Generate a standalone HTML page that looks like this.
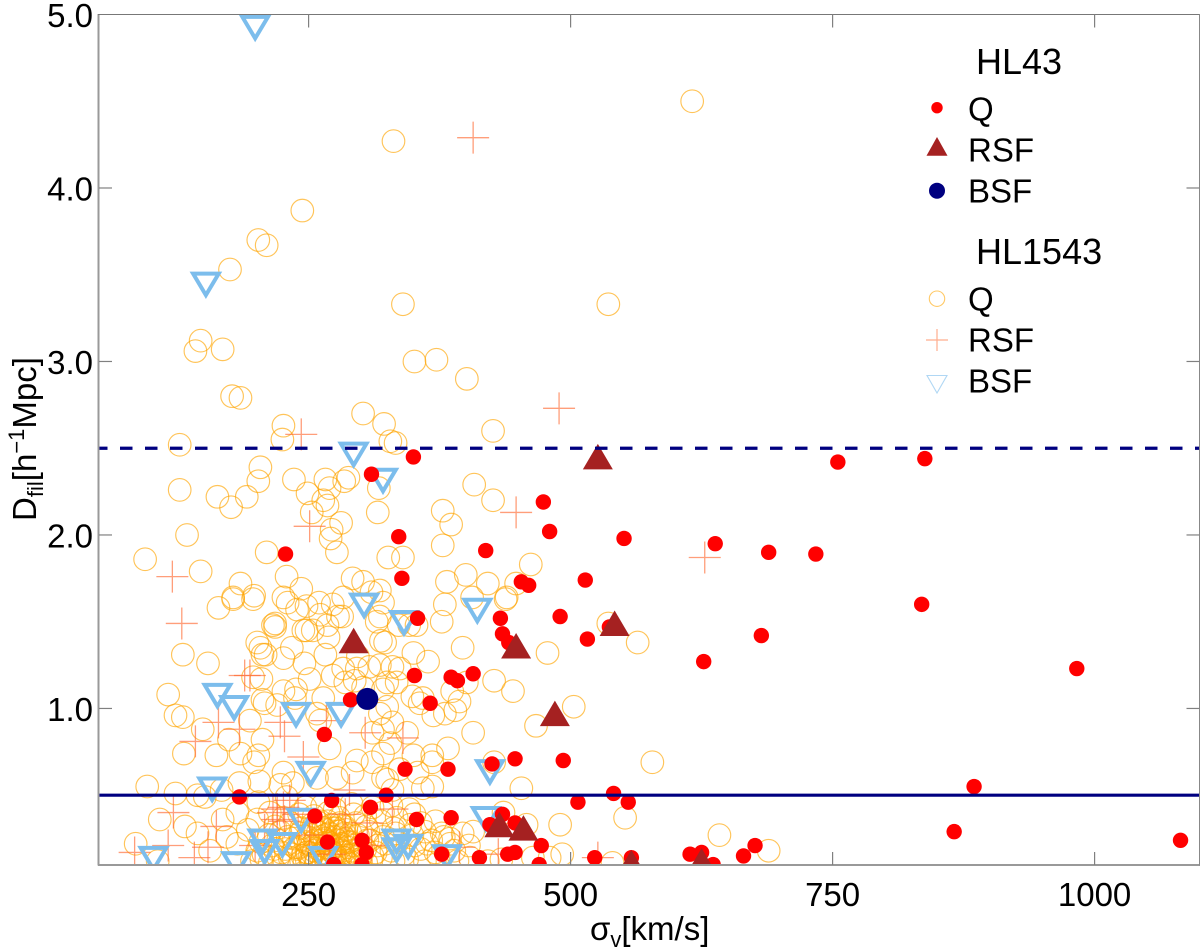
<!DOCTYPE html>
<html lang="en">
<head>
<meta charset="utf-8">
<title>Dfil vs velocity dispersion</title>
<style>
html,body{margin:0;padding:0;background:#fff;}
svg{display:block;}
text{font-family:"Liberation Sans",sans-serif;fill:#000;}
</style>
</head>
<body>
<svg id="chart" width="1200" height="950" viewBox="0 0 1200 950" xmlns="http://www.w3.org/2000/svg">
  <defs><clipPath id="plot-clip"><rect x="99" y="14.5" width="1100" height="850"></rect></clipPath></defs>
  <g id="marks" clip-path="url(#plot-clip)"></g>
  <g id="axes"></g>
  <text x="590" y="940" font-size="33">σ<tspan dy="7" font-size="22">v</tspan><tspan dy="-7">[km/s]</tspan></text>
  <text x="36" y="439" font-size="33" text-anchor="middle" transform="rotate(-90 36 439)">D<tspan dy="7" font-size="22">fil</tspan><tspan dy="-7">[h</tspan><tspan dy="-12" font-size="22">−1</tspan><tspan dy="12">Mpc]</tspan></text>
  <g>
    <text x="976" y="74" font-size="36">HL43</text>
    <circle cx="937" cy="107.7" r="5.7" fill="#ff0000"></circle>
    <text x="968" y="120.5" font-size="33">Q</text>
    <polygon points="926.5,155.7 947.5,155.7 937,137" fill="#a52121"></polygon>
    <text x="968" y="161.7" font-size="33">RSF</text>
    <circle cx="937" cy="190.7" r="8" fill="#000080"></circle>
    <text x="968" y="202.7" font-size="33">BSF</text>
    <text x="976" y="264" font-size="36">HL1543</text>
    <circle cx="937" cy="298.7" r="7.7" fill="none" stroke="#ffa500" stroke-opacity="0.6" stroke-width="1.1"></circle>
    <text x="968" y="310.7" font-size="33">Q</text>
    <path d="M926 340H948M937 329V351" fill="none" stroke="#ff6a32" stroke-opacity="0.55" stroke-width="1.2"></path>
    <text x="968" y="351.7" font-size="33">RSF</text>
    <polygon points="927,375.5 947,375.5 937,393" fill="none" stroke="#7cbdec" stroke-opacity="0.6" stroke-width="1.1"></polygon>
    <text x="968" y="392.7" font-size="33">BSF</text>
  </g>
</svg>
<script>
const xTickValues = [250, 500, 750, 1000];
const xTickLabels = ["250", "500", "750", "1000"];
const yTickValues = [1, 2, 3, 4, 5];
const yTickLabels = ["1.0", "2.0", "3.0", "4.0", "5.0"];
const referenceLines = [0.5, 2.5];

const hl43QSigma = [350,310,474,480,336,419,551,339,453,460,514,228,354,433,490,435,441,516,537,351,386,392,407,366,290,265,342,383,425,447,493,324,541,555,507,353,386,435,423,447,472,377,413,440,447,470,523,558,184,272,309,256,268,301,305,274,301,885,866,1082,676,665,625,614,636,755,838,638,689,734,835,682,627,983];
const hl43QDfil = [2.45,2.35,2.19,2.02,1.99,1.91,1.98,1.75,1.73,1.71,1.74,1.89,1.52,1.52,1.53,1.43,1.38,1.40,1.47,1.19,1.18,1.16,1.20,1.03,1.05,0.85,0.65,0.65,0.68,0.71,0.70,0.50,0.51,0.46,0.46,0.36,0.37,0.39,0.33,0.34,0.21,0.16,0.14,0.16,0.17,0.10,0.14,0.14,0.49,0.47,0.43,0.38,0.23,0.24,0.17,0.10,0.10,0.55,0.29,0.24,0.21,0.15,0.17,0.16,0.10,2.42,2.44,1.95,1.90,1.89,1.60,1.42,1.27,1.23];

const hl43RsfSigma = [293,448,542,485,432,455,558,526,625];
const hl43RsfDfil = [1.39,1.36,1.49,0.97,0.33,0.31,0.11,2.45,0.12];

const hl43BsfSigma = [306];
const hl43BsfDfil = [1.055];

const hl1543BsfSigma = [199,152,293,321,303,341,411,163,179,238,281,252,158,423,419,243,206,208,225,102,181,264,334,345,334,382];
const hl1543BsfDfil = [4.92,3.44,2.46,2.31,1.59,1.49,1.56,1.07,1.00,0.96,0.96,0.62,0.53,0.63,0.36,0.35,0.23,0.17,0.21,0.13,0.10,0.13,0.23,0.20,0.18,0.14];

const hl1543RsfSigma = [407,489,448,243,251,120,129,194,189,628,164,184,223,227,142,267,304,245,289,232,121,162,220,84,116,154,141,330,306,216,226,310,394,431,526,340,220,227,240,208,199,251,285,270];
const hl1543RsfDfil = [4.29,2.73,2.13,2.58,2.05,1.76,1.49,1.19,1.19,1.87,0.92,0.88,0.92,0.84,0.81,0.93,0.86,0.72,0.53,0.47,0.40,0.32,0.36,0.17,0.21,0.20,0.14,0.42,0.34,0.40,0.43,0.21,0.20,0.16,0.14,0.83,0.42,0.35,0.39,0.30,0.21,0.27,0.39,0.16];

const hl1543QSigma = [
616,331,340,536,351,372,401,175,202,210,244,147,142,168,177,185,
226,225,302,322,127,328,204,202,127,163,176,191,236,266,270,284,288,249,264,268,253,281,272,271,277,317,316,326,94,134,210,147,185,178,198,164,
229,243,226,230,239,248,260,273,283,292,302,310,
426,333,408,426,378,386,378,462,448,340,382,400,421,439,406,380,321,318,
318,336,346,353,377,438,536,564,478,397,427,445,323,350,364,330,337,325,334,321,349,359,356,401,387,394,390,380,369,407,318,330,321,344,467,503,383,368,328,350,368,354,337,321,359,368,330,427,453,578,552,490,436,458,371,397,407,385,377,492,480,464,540,363,642,689,
282,261,245,269,254,218,234,201,204,206,209,226,246,266,315,319,297,318,283,296,308,273,285,294,251,302,205,197,238,208,220,264,237,325,258,216,
178,197,218,248,268,278,130,154,116,123,130,149,131,162,174,185,206,194,206,226,261,270,311,321,296,311,198,202,226,223,235,258,277,292,325,96,123,144,151,167,184,203,108,132,144,85,156,106,168,182,202,192,172,182,201,213,229,
196,205,213,221,227,236,243,251,257,266,273,283,289,299,305,319,331,344,361,374,392,404,421,434,
201,207,217,224,233,239,249,255,265,271,282,291,304,314,329,341,357,371,389,
204,215,221,231,237,247,253,263,269,279,287,300,309,323,335,351,367,385,403,
212,223,230,242,249,259,266,277,284,297,307,321,333,349,361,379,
218,233,243,253,261,273,281,295,305,319,331,347,357,
226,241,255,269,279,293,304,321,334,351,
247,263,275,291,311,329,346,
246,252,258,262,268,272,276,280,284,288,292,296,300,
248,254,259,263,267,271,275,279,283,287,291,295,
250,256,261,265,269,273,277,281,285,289,293,
252,257,262,266,270,274,278,282,286,290,
255,260,264,268,272,276,280,284,
244,240,236,232,228,301,306,311,316
];
const hl1543QDfil = [
4.50,4.27,3.33,3.33,3.00,3.01,2.90,3.53,3.70,3.67,3.87,3.12,3.06,3.07,2.80,2.79,
2.63,2.55,2.70,2.64,2.52,2.54,2.39,2.31,2.26,2.22,2.16,2.22,2.32,2.32,2.27,2.31,2.33,2.24,2.20,2.17,2.13,2.07,2.03,1.98,1.90,2.27,2.13,1.87,1.86,2.00,1.90,1.79,1.72,1.64,1.65,1.58,
1.76,1.69,1.64,1.61,1.57,1.59,1.61,1.60,1.64,1.75,1.73,1.67,
2.60,2.53,2.29,2.20,2.14,2.06,1.94,1.83,1.72,1.87,1.73,1.77,1.72,1.64,1.64,1.60,1.61,1.68,
1.53,1.48,1.48,1.48,1.50,1.63,1.49,1.38,1.32,1.35,1.16,1.10,1.38,1.32,1.27,1.24,1.23,1.15,1.15,1.11,1.07,1.06,1.03,1.15,1.10,1.04,0.99,0.97,0.96,0.86,0.97,0.92,0.88,0.86,0.90,1.01,0.77,0.73,0.80,0.73,0.69,0.63,0.65,0.60,0.54,0.55,0.53,0.69,0.54,0.69,0.37,0.33,0.40,0.33,0.35,0.28,0.29,0.25,0.28,0.16,0.14,0.14,0.11,0.22,0.27,0.18,
1.53,1.54,1.45,1.41,1.45,1.49,1.35,1.38,1.35,1.31,1.31,1.29,1.26,1.31,1.50,1.39,1.30,1.25,1.23,1.23,1.24,1.19,1.15,1.16,1.17,1.12,1.17,1.18,1.11,1.03,1.02,1.06,1.06,1.01,0.97,1.48,
1.63,1.63,1.47,1.45,1.48,1.53,1.31,1.26,1.08,0.96,0.95,0.88,0.74,0.73,0.82,0.74,0.82,0.93,1.05,1.10,0.93,0.77,0.86,0.74,0.70,0.69,0.69,0.73,0.63,0.56,0.57,0.60,0.60,0.63,0.59,0.55,0.51,0.50,0.49,0.53,0.57,0.58,0.36,0.32,0.28,0.22,0.18,0.12,0.36,0.40,0.46,0.30,0.26,0.22,0.36,0.40,0.49,
0.12,0.13,0.11,0.14,0.11,0.13,0.12,0.15,0.11,0.13,0.12,0.14,0.12,0.13,0.11,0.14,0.12,0.13,0.12,0.15,0.12,0.14,0.12,0.13,
0.18,0.16,0.19,0.17,0.16,0.19,0.17,0.18,0.16,0.19,0.18,0.16,0.19,0.17,0.18,0.16,0.19,0.17,0.18,
0.23,0.21,0.24,0.22,0.20,0.23,0.21,0.24,0.22,0.21,0.23,0.21,0.24,0.22,0.23,0.21,0.24,0.22,0.21,
0.27,0.29,0.26,0.28,0.26,0.29,0.27,0.26,0.28,0.27,0.29,0.26,0.28,0.27,0.29,0.26,
0.32,0.34,0.31,0.33,0.35,0.31,0.33,0.34,0.32,0.35,0.31,0.33,0.34,
0.37,0.39,0.38,0.40,0.37,0.39,0.38,0.40,0.37,0.39,
0.43,0.44,0.42,0.45,0.43,0.44,0.42,
0.11,0.13,0.12,0.14,0.11,0.13,0.15,0.12,0.14,0.11,0.13,0.15,0.12,
0.17,0.16,0.19,0.17,0.20,0.18,0.16,0.19,0.17,0.20,0.18,0.16,
0.22,0.24,0.21,0.25,0.23,0.21,0.24,0.22,0.25,0.23,0.21,
0.27,0.29,0.26,0.30,0.28,0.26,0.29,0.27,0.30,0.28,
0.32,0.34,0.31,0.35,0.33,0.31,0.34,0.32,
0.15,0.20,0.25,0.14,0.19,0.18,0.24,0.15,0.21
];

const SVGNS = "http://www.w3.org/2000/svg";
const X_MIN = 50, X_MAX = 1100, Y_MIN = 0.1, Y_MAX = 5;
const LEFT = 99, RIGHT = 1199.4, TOP = 14.5, BOTTOM = 864.6;
function xScale(v) { return LEFT + (v - X_MIN) * (RIGHT - LEFT) / (X_MAX - X_MIN); }
function yScale(v) { return BOTTOM - (v - Y_MIN) * (BOTTOM - TOP) / (Y_MAX - Y_MIN); }
const marks = document.getElementById("marks");
const axes = document.getElementById("axes");

function make(tag, attrs, parent) {
  const el = document.createElementNS(SVGNS, tag);
  for (const k in attrs) el.setAttribute(k, attrs[k]);
  parent.appendChild(el);
  return el;
}

// HL1543 Q: open orange circles
hl1543QSigma.forEach(function (s, i) {
  const el = make("circle", {cx: xScale(s), cy: yScale(hl1543QDfil[i]), r: 11.3, fill: "none", stroke: "#ffa500", "stroke-opacity": 0.65, "stroke-width": 1.15}, marks);
  
  
});
// HL1543 RSF: crosses
hl1543RsfSigma.forEach(function (s, i) {
  const cx = xScale(s), cy = yScale(hl1543RsfDfil[i]);
  const el = make("path", {d: "M" + (cx - 16) + " " + cy + "H" + (cx + 16) + "M" + cx + " " + (cy - 16) + "V" + (cy + 16), fill: "none", stroke: "#ff6a32", "stroke-opacity": 0.65, "stroke-width": 1.3}, marks);
  
  
});
// HL1543 BSF: inverted open triangles
hl1543BsfSigma.forEach(function (s, i) {
  const cx = xScale(s), cy = yScale(hl1543BsfDfil[i]);
  const pts = (cx - 12.8) + "," + (cy - 11.5) + " " + (cx + 12.8) + "," + (cy - 11.5) + " " + cx + "," + (cy + 10);
  const el = make("polygon", {points: pts, fill: "none", stroke: "#7cbdec", "stroke-width": 4}, marks);
  
  
});
// HL43 Q: red dots
hl43QSigma.forEach(function (s, i) {
  const el = make("circle", {cx: xScale(s), cy: yScale(hl43QDfil[i]), r: 7.7, fill: "#ff0000"}, marks);
  
  
});
// HL43 RSF: dark red triangles
hl43RsfSigma.forEach(function (s, i) {
  const cx = xScale(s), cy = yScale(hl43RsfDfil[i]);
  const pts = (cx - 15) + "," + (cy + 12.5) + " " + (cx + 15) + "," + (cy + 12.5) + " " + cx + "," + (cy - 13);
  const el = make("polygon", {points: pts, fill: "#a52121"}, marks);
  
  
});
// HL43 BSF: navy dot
hl43BsfSigma.forEach(function (s, i) {
  const el = make("circle", {cx: xScale(s), cy: yScale(hl43BsfDfil[i]), r: 11, fill: "#000080"}, marks);
  
  
});
// Reference lines
referenceLines.forEach(function (v, i) {
  const attrs = {x1: LEFT, x2: RIGHT, y1: yScale(v), y2: yScale(v), stroke: "#000080", "stroke-width": 3.2};
  if (i === 1) { attrs["stroke-dasharray"] = "12.5 12.5"; attrs["stroke-dashoffset"] = "4"; }
  const el = make("line", attrs, marks);
  
  
});

// Axis frame
const frameLeft = make("line", {x1: 98.5, x2: 98.5, y1: 14, y2: 865.5, stroke: "#999", "stroke-width": 2}, axes);


const frameBottom = make("line", {x1: 98, x2: 1200, y1: 865, y2: 865, stroke: "#999", "stroke-width": 2}, axes);


const frameTop = make("line", {x1: 98, x2: 1200, y1: 14.5, y2: 14.5, stroke: "#777", "stroke-width": 1}, axes);


const frameRight = make("line", {x1: 1199.5, x2: 1199.5, y1: 14, y2: 865.5, stroke: "#888", "stroke-width": 1}, axes);



// X ticks
xTickValues.forEach(function (v, i) {
  const x = xScale(v);
  const tb = make("line", {x1: x, x2: x, y1: 852, y2: 865, stroke: "#808080", "stroke-width": 1.2}, axes);
  
  
  const tt = make("line", {x1: x, x2: x, y1: 14.5, y2: 27.5, stroke: "#808080", "stroke-width": 1.2}, axes);
  
  
  const lab = make("text", {x: x, y: 906, "font-size": 33, "text-anchor": "middle"}, axes);
  lab.textContent = xTickLabels[i];
  
  
});
// Y ticks
yTickValues.forEach(function (v, i) {
  const y = yScale(v);
  if (v < Y_MAX) {
    const tl = make("line", {x1: 99, x2: 112, y1: y, y2: y, stroke: "#808080", "stroke-width": 1.2}, axes);
    
    
    const tr = make("line", {x1: 1186.5, x2: 1199.5, y1: y, y2: y, stroke: "#808080", "stroke-width": 1.2}, axes);
    
    
  }
  const lab = make("text", {x: 93, y: y + 12.5, "font-size": 33, "text-anchor": "end"}, axes);
  lab.textContent = yTickLabels[i];
  
  
});
</script>
</body>
</html>
